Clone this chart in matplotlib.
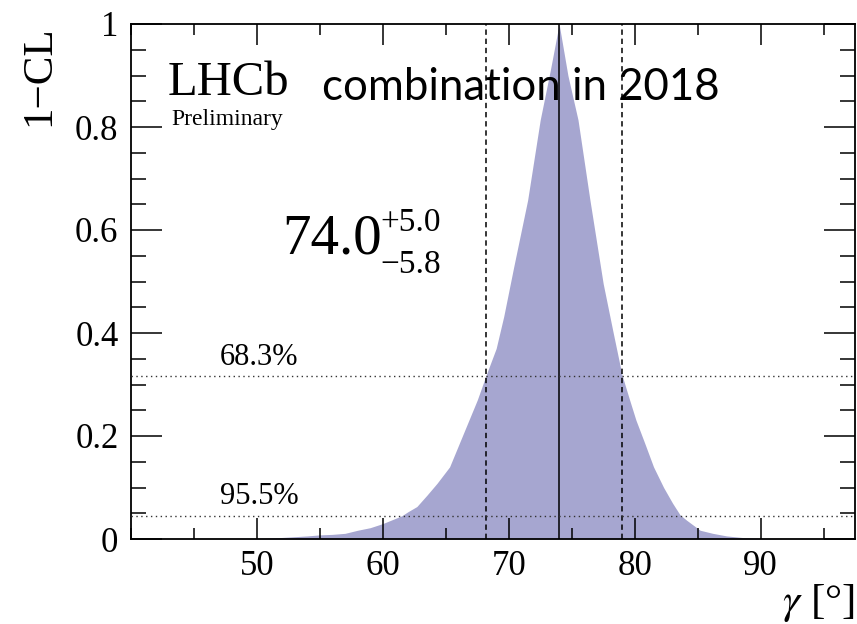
import matplotlib
matplotlib.use("Agg")
import matplotlib.pyplot as plt
from matplotlib.ticker import MultipleLocator

# 1-CL profile of the gamma combination
gamma = [40, 45, 48, 50, 52, 54, 55, 56, 57, 58, 59, 60, 61, 61.5, 62, 62.7,
         63.5, 64.3, 65.3, 66.4, 67.5, 68.2, 69.0, 69.6, 70.4, 71.5, 72.5,
         73.3, 74.0, 74.7, 75.5, 76.45, 77.5, 78.3, 79.0, 79.6, 80.1, 80.8,
         81.5, 82.3, 83.0, 83.6, 84.1, 85.2, 86.2, 87.3, 88.5, 90, 92, 95, 97.5]
one_minus_cl = [0, 0, 0, 0.001, 0.003, 0.006, 0.008, 0.009, 0.011, 0.017,
                0.022, 0.030, 0.040, 0.045, 0.053, 0.063, 0.085, 0.108, 0.14,
                0.205, 0.27, 0.318, 0.37, 0.432, 0.529, 0.658, 0.814, 0.91,
                1.0, 0.9, 0.814, 0.658, 0.496, 0.40, 0.318, 0.27, 0.231, 0.186,
                0.14, 0.10, 0.07, 0.047, 0.037, 0.017, 0.011, 0.006, 0.003,
                0.001, 0, 0, 0]

best_fit = 74.0
err_up = 5.0
err_down = 5.8
cl_levels = [0.317, 0.045]
cl_labels = ["68.3%", "95.5%"]

serif = "Liberation Serif"
W, H = 857, 624

fig = plt.figure(figsize=(W / 100, H / 100), dpi=100)
ax = fig.add_axes([131 / W, 85 / H, 724 / W, 515 / H])

ax.fill_between(gamma, 0, one_minus_cl, color="#a6a6d0", lw=0, zorder=1)

ax.axvline(best_fit, color="black", lw=1.1, zorder=3)
for xv in (best_fit - err_down, best_fit + err_up):
    ax.axvline(xv, color="black", lw=1.1, ls=(0, (3.5, 2.5)), zorder=3)
for yv in cl_levels:
    ax.axhline(yv, color="#333333", lw=1.0, ls=(0, (1, 2.5)), zorder=3)

ax.set_xlim(40, 97.5)
ax.set_ylim(0, 1)

ax.xaxis.set_major_locator(MultipleLocator(10))
ax.xaxis.set_minor_locator(MultipleLocator(5))
ax.yaxis.set_major_locator(MultipleLocator(0.2))
ax.yaxis.set_minor_locator(MultipleLocator(0.05))

ax.tick_params(axis="both", which="both", direction="in", top=True, right=True,
               color="black", width=1.1, labelsize=25)
ax.tick_params(axis="x", which="major", length=15, pad=8)
ax.tick_params(axis="x", which="minor", length=8)
ax.tick_params(axis="y", which="major", length=22, pad=9)
ax.tick_params(axis="y", which="minor", length=11)

ax.set_xticks([50, 60, 70, 80, 90])
ax.set_yticks([0, 0.2, 0.4, 0.6, 0.8, 1.0])
ax.set_yticklabels(["0", "0.2", "0.4", "0.6", "0.8", "1"])
for lab in ax.get_xticklabels() + ax.get_yticklabels():
    lab.set_fontfamily(serif)

for sp in ax.spines.values():
    sp.set_linewidth(1.3)


# texts placed in pixel coordinates (y measured from the top)
def put(x, y, s, **kw):
    fig.text(x / W, 1 - y / H, s, **kw)


# axis titles
put(20, 25, "1\u2212CL", rotation=90, ha="left", va="top", fontsize=31,
    family=serif)
put(855, 624, r"$\gamma$ [°]", ha="right", va="bottom", fontsize=31,
    family=serif, math_fontfamily="stix")

# experiment label
put(168, 95, "LHCb", fontsize=35, family=serif, ha="left", va="baseline")
put(171, 125, "Preliminary", fontsize=17, family=serif, ha="left",
    va="baseline")

put(322, 100, "combination in 2018", fontsize=31.5, family="Lato",
    ha="left", va="baseline")

put(282, 254, f"{best_fit:.1f}", fontsize=41, family=serif, ha="left",
    va="baseline")
put(380, 231, f"+{err_up:.1f}", fontsize=24, family=serif, ha="left",
    va="baseline")
put(380, 273, f"\u2212{err_down:.1f}", fontsize=24, family=serif, ha="left",
    va="baseline")

put(220, 365, cl_labels[0], fontsize=22, family=serif, ha="left", va="baseline")
put(220, 504, cl_labels[1], fontsize=22, family=serif, ha="left", va="baseline")

fig.savefig("out.png", dpi=100)
